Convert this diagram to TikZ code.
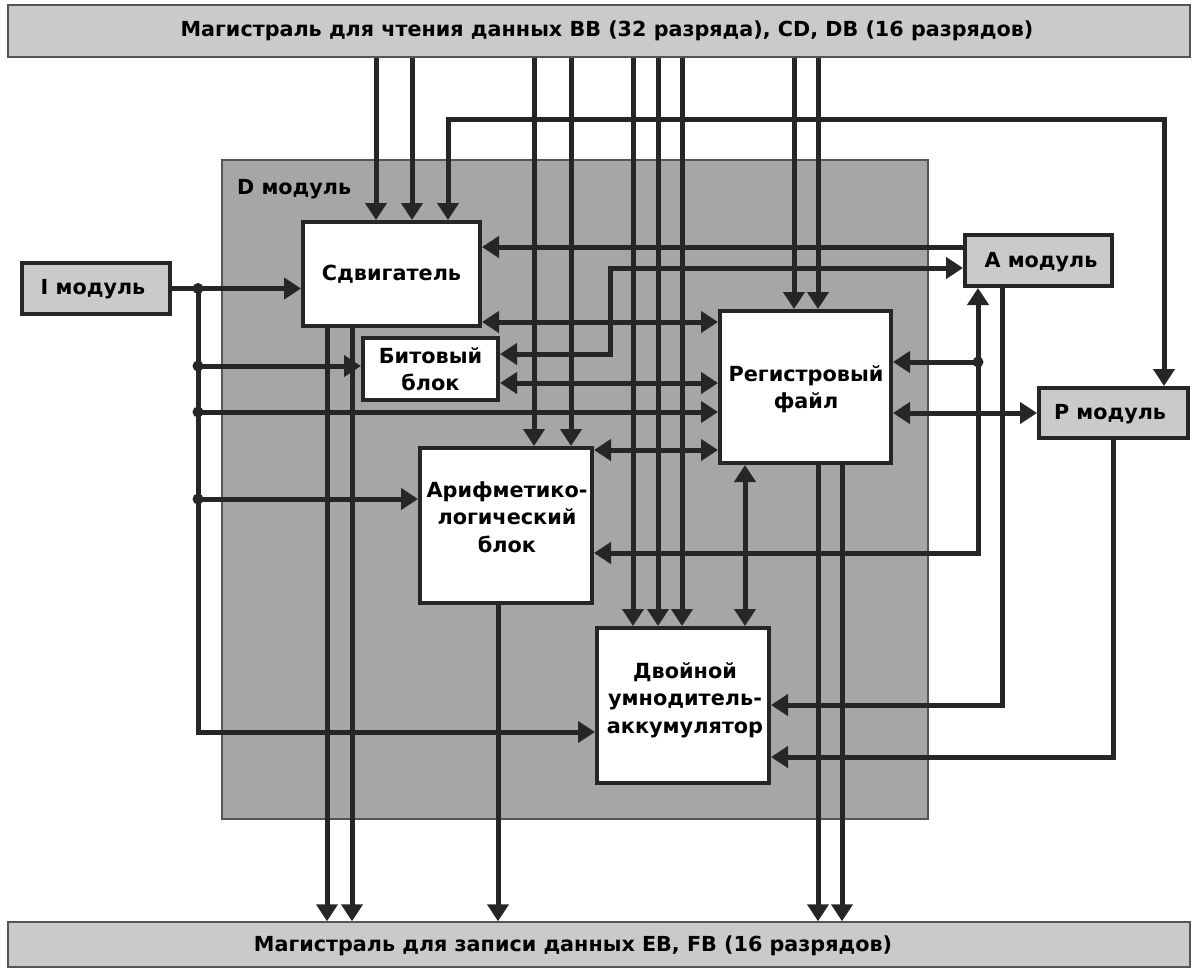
\documentclass[tikz,border=0pt]{standalone}
\usepackage{fontspec}
\setmainfont{DejaVu Sans}
\usetikzlibrary{arrows.meta}
\definecolor{wirec}{HTML}{262626}
\definecolor{busfill}{HTML}{C9CACC}
\definecolor{dfill}{HTML}{A4A6A8}
\definecolor{edgegray}{HTML}{555555}
\begin{document}
\begin{tikzpicture}[x=1pt,y=-1pt,
  >={Triangle[length=17pt,width=21pt]},
  wire/.style={line width=5pt, draw=wirec},
  busbox/.style={draw=edgegray, line width=1.5pt, fill=busfill, inner sep=0pt},
  dbox/.style={draw=edgegray, line width=1.5pt, fill=dfill, inner sep=0pt},
  block/.style={draw=wirec, line width=4pt, fill=white, inner sep=0pt},
  modbox/.style={draw=wirec, line width=4pt, fill=busfill, inner sep=0pt},
  txt/.style={inner sep=0pt, align=center, font=\bfseries\fontsize{20.8}{27.5}\selectfont},
  bustxt/.style={inner sep=0pt, font=\bfseries\fontsize{20.7}{24}\selectfont},
  modtxt/.style={inner sep=0pt, font=\bfseries\fontsize{20.7}{24}\selectfont},
  dot/.style={fill=wirec}
]
\useasboundingbox (0,0) rectangle (1197,971);

% buses
\node[busbox, minimum width=1182pt, minimum height=52pt] (bustop) at (599,31) {};
\node[bustxt] (bustoptxt) at (607,31) {Магистраль для чтения данных BB (32 разряда), CD, DB (16 разрядов)};
\node[busbox, minimum width=1182pt, minimum height=45pt] (busbot) at (599,944.5) {};
\node[bustxt] (busbottxt) at (573,946) {Магистраль для записи данных EB, FB (16 разрядов)};

% D module area
\node[dbox, minimum width=706pt, minimum height=659pt] (dmod) at (575,489.5) {};
\node[modtxt, anchor=west] (dlabel) at (237,189) {D модуль};

% functional blocks
\node[block, minimum width=177pt, minimum height=104pt] (shift) at (391.5,274) {};
\node[txt] (shifttxt) at (391.5,274) {Сдвигатель};
\node[block, minimum width=135pt, minimum height=62pt] (bit) at (430.5,369) {};
\node[txt] (bittxt) at (430.5,369) {Битовый\\блок};
\node[block, minimum width=171pt, minimum height=152pt] (reg) at (805.5,387) {};
\node[txt] (regtxt) at (806,389) {Регистровый\\файл};
\node[block, minimum width=172pt, minimum height=155pt] (alu) at (506,525.5) {};
\node[txt] (alutxt) at (507,517) {Арифметико-\\логический\\блок};
\node[block, minimum width=172pt, minimum height=155pt] (mac) at (683,705.5) {};
\node[txt] (mactxt) at (685,700) {Двойной\\умнодитель-\\аккумулятор};

% external modules
\node[modbox, minimum width=148pt, minimum height=51pt] (imod) at (96,288.5) {};
\node[modtxt] (imodtxt) at (93,289) {I модуль};
\node[modbox, minimum width=147pt, minimum height=51pt] (amod) at (1038.5,260.5) {};
\node[modtxt] (amodtxt) at (1041,262) {A модуль};
\node[modbox, minimum width=149pt, minimum height=50pt] (pmod) at (1113.5,413) {};
\node[modtxt] (pmodtxt) at (1110,414) {P модуль};

% wire columns
\coordinate (cA) at (376,0);
\coordinate (cB) at (412,0);
\coordinate (cC) at (448,0);
\coordinate (cD) at (534,0);
\coordinate (cE) at (571,0);
\coordinate (cF) at (633,0);
\coordinate (cG) at (658,0);
\coordinate (cH) at (682,0);
\coordinate (cI) at (794,0);
\coordinate (cJ) at (818,0);
\coordinate (cK) at (1164,0);
\coordinate (cL) at (198,0);
\coordinate (cM) at (610,0);
\coordinate (cN) at (978,0);
\coordinate (cO) at (1002,0);
\coordinate (cQ) at (327,0);
\coordinate (cR) at (352,0);
\coordinate (cS) at (498,0);
\coordinate (cT) at (818,0);
\coordinate (cU) at (842,0);
\coordinate (cV) at (745,0);

% wire rows
\coordinate (r120) at (0,120);
\coordinate (r247) at (0,247);
\coordinate (r268) at (0,268);
\coordinate (r322) at (0,322);
\coordinate (r354) at (0,354);
\coordinate (r362) at (0,362);
\coordinate (r366) at (0,366);
\coordinate (r383) at (0,383);
\coordinate (r412) at (0,412);
\coordinate (r450) at (0,450);
\coordinate (r499) at (0,499);
\coordinate (r553) at (0,553);
\coordinate (r705) at (0,705);
\coordinate (r732) at (0,732);
\coordinate (r757) at (0,757);

% read bus feeds
\foreach \c/\t in {cA/shift, cB/shift, cD/alu, cE/alu, cF/mac, cG/mac, cH/mac, cI/reg, cJ/reg}
  \draw[wire, ->] (\c |- bustop.south) -- (\c |- \t.north);

% write bus feeds
\foreach \c/\s in {cQ/shift, cR/shift, cS/alu, cT/reg, cU/reg}
  \draw[wire, ->] (\c |- \s.south) -- (\c |- busbot.north);

% shifter <-> P module over the top
\draw[wire, <->] (cC |- shift.north) -- (cC |- r120) -- (cK |- r120) -- (cK |- pmod.north);

% I module distribution
\draw[wire, ->] (imod.east) -- (shift.west |- imod.east);
\draw[wire, ->] (cL |- imod.east) -- (cL |- r732) -- (mac.west |- r732);
\draw[wire, ->] (cL |- r366) -- (bit.west |- r366);
\draw[wire, ->] (cL |- r412) -- (reg.west |- r412);
\draw[wire, ->] (cL |- r499) -- (alu.west |- r499);
\foreach \r in {imod.east, r366, r412, r499}
  \fill[dot] (cL |- \r) circle (5.5pt);

% A module links
\draw[wire, ->] (amod.west |- r247) -- (shift.east |- r247);
\draw[wire, <->] (bit.east |- r354) -- (cM |- r354) -- (cM |- r268) -- (amod.west |- r268);
\draw[wire, <->] (amod.south -| cN) -- (cN |- r553) -- (alu.east |- r553);
\draw[wire, ->] (cN |- r362) -- (reg.east |- r362);
\fill[dot] (cN |- r362) circle (5.5pt);
\draw[wire, ->] (amod.south -| cO) -- (cO |- r705) -- (mac.east |- r705);

% P module links
\draw[wire, ->] (pmod.south) -- (pmod.south |- r757) -- (mac.east |- r757);
\draw[wire, <->] (reg.east |- pmod.west) -- (pmod.west);

% register file exchanges
\draw[wire, <->] (shift.east |- r322) -- (reg.west |- r322);
\draw[wire, <->] (bit.east |- r383) -- (reg.west |- r383);
\draw[wire, <->] (alu.east |- r450) -- (reg.west |- r450);
\draw[wire, <->] (cV |- reg.south) -- (cV |- mac.north);
\end{tikzpicture}
\end{document}
